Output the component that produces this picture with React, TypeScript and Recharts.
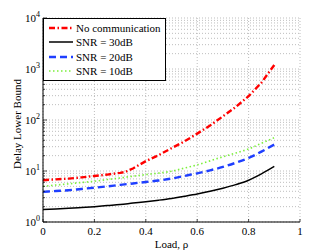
import { LineChart, Line, XAxis, YAxis, CartesianGrid, Legend } from "recharts";

const rho = [0, 0.05, 0.1, 0.15, 0.2, 0.25, 0.3, 0.35, 0.4, 0.45, 0.5, 0.55, 0.6, 0.65, 0.7, 0.75, 0.8, 0.85, 0.9];
const snr30 = [1.76, 1.8, 1.85, 1.92, 2.0, 2.1, 2.2, 2.35, 2.5, 2.68, 2.9, 3.2, 3.55, 4.0, 4.6, 5.4, 6.6, 8.8, 12.3];
const snr20 = [3.9, 4.05, 4.2, 4.45, 4.7, 5.0, 5.35, 5.7, 6.1, 6.5, 7.1, 8.0, 9.0, 10.3, 12, 14.5, 18, 24, 33];
const snr10 = [5.0, 5.3, 5.6, 5.95, 6.3, 6.8, 7.3, 7.9, 8.5, 9.1, 9.9, 11.4, 13.2, 15.8, 19, 22.5, 27, 35, 45];

const rhoNoComm = [0, 0.05, 0.1, 0.15, 0.2, 0.25, 0.3, 0.32, 0.35, 0.4, 0.45, 0.5, 0.55, 0.6, 0.65, 0.7, 0.75, 0.8, 0.85, 0.9];
const noComm = [6.6, 6.85, 7.1, 7.5, 8.0, 8.5, 9.2, 9.6, 11.2, 15.6, 20.5, 28, 38, 54, 78, 118, 180, 293, 540, 1200];

const xTicks = [0, 0.2, 0.4, 0.6, 0.8, 1];
const decades = [1, 10, 100, 1000, 10000];
const yTicks = [
  1, 2, 3, 4, 5, 6, 7, 8, 9,
  10, 20, 30, 40, 50, 60, 70, 80, 90,
  100, 200, 300, 400, 500, 600, 700, 800, 900,
  1000, 2000, 3000, 4000, 5000, 6000, 7000, 8000, 9000,
  10000,
];

const table = rho.map((r, i) => ({ rho: r, snr30: snr30[i], snr20: snr20[i], snr10: snr10[i] }));
const noCommTable = rhoNoComm.map((r, i) => ({ rho: r, noComm: noComm[i] }));

const FONT = "'Liberation Serif', 'DejaVu Serif', serif";

const series = [
  { key: "noComm", name: "No communication", color: "#ff0000", dash: "6 2.5 1.5 2.5", width: 2.4 },
  { key: "snr30", name: "SNR = 30dB", color: "#000000", dash: undefined, width: 1.5 },
  { key: "snr20", name: "SNR = 20dB", color: "#1f3fff", dash: "7 4", width: 2.4 },
  { key: "snr10", name: "SNR = 10dB", color: "#7cf03c", dash: "1.5 2.5", width: 1.6 },
];

const LeftTick = (props: any) => {
  const { x, y, payload } = props;
  const v = payload.value;
  const edge = x + 3;
  const major = decades.includes(v);
  const exp = Math.round(Math.log10(v));
  return (
    <g>
      <line x1={edge} x2={edge + (major ? 4 : 2)} y1={y} y2={y} stroke="#000" strokeWidth={0.7} />
      {major && (
        <text x={edge - 3} y={y + 4} textAnchor="end" fontSize={11} fontFamily={FONT} fill="#000">
          10
          <tspan dy={-5} fontSize={8}>
            {exp}
          </tspan>
        </text>
      )}
    </g>
  );
};

const RightTick = (props: any) => {
  const { x, y, payload } = props;
  const major = decades.includes(payload.value);
  return <line x1={x - (major ? 4 : 2)} x2={x} y1={y} y2={y} stroke="#000" strokeWidth={0.7} />;
};

const BottomTick = (props: any) => {
  const { x, y, payload } = props;
  return (
    <g>
      <line x1={x} x2={x} y1={y} y2={y - 3} stroke="#000" strokeWidth={0.7} />
      <text x={x} y={y + 13} textAnchor="middle" fontSize={11} fontFamily={FONT} fill="#000">
        {payload.value}
      </text>
    </g>
  );
};

const TopTick = (props: any) => {
  const { x, y } = props;
  return <line x1={x} x2={x} y1={y} y2={y + 3} stroke="#000" strokeWidth={0.7} />;
};

const LegendBox = () => (
  <div
    style={{
      width: 123,
      height: 63,
      background: "#fff",
      border: "1px solid #000",
      boxSizing: "border-box",
      fontFamily: FONT,
      fontSize: 11,
      padding: "2px 0 0 4px",
      color: "#000",
    }}
  >
    {series.map((s) => (
      <div key={s.key} style={{ display: "flex", alignItems: "center", height: 14.3 }}>
        <svg width={27} height={8}>
          <line x1={1} x2={25} y1={4} y2={4} stroke={s.color} strokeWidth={s.width} strokeDasharray={s.dash} />
        </svg>
        <span style={{ marginLeft: 1, whiteSpace: "nowrap" }}>{s.name}</span>
      </div>
    ))}
  </div>
);

export default function App() {
  return (
    <div style={{ position: "absolute", left: 0, top: 0, background: "#fff" }}>
      <LineChart width={332} height={250} data={table} margin={{ top: 18, right: 32, left: 8, bottom: 0 }}>
        <CartesianGrid stroke="#a0a0a0" strokeDasharray="1 2" strokeWidth={0.7} />
        <XAxis
          dataKey="rho"
          type="number"
          domain={[0, 1]}
          ticks={xTicks}
          interval={0}
          height={28}
          tickSize={0}
          tickMargin={0}
          tick={<BottomTick />}
          axisLine={{ stroke: "#000" }}
          label={{ value: "Load, ρ", position: "insideBottom", offset: 2, fontSize: 11, fontFamily: FONT, fill: "#000" }}
        />
        <XAxis
          xAxisId="top"
          orientation="top"
          dataKey="rho"
          type="number"
          domain={[0, 1]}
          ticks={xTicks}
          interval={0}
          height={0}
          tickSize={0}
          tickMargin={0}
          tick={<TopTick />}
          axisLine={{ stroke: "#000" }}
        />
        <YAxis
          scale="log"
          type="number"
          domain={[1, 10000]}
          allowDataOverflow
          ticks={yTicks}
          interval={0}
          width={35}
          tickSize={0}
          tickMargin={3}
          tick={<LeftTick />}
          axisLine={{ stroke: "#000" }}
          label={{
            content: (p: any) => {
              const vb = p.viewBox;
              const cx = vb.x + 9;
              const cy = vb.y + vb.height / 2 + 4;
              return (
                <text
                  x={cx}
                  y={cy}
                  transform={`rotate(-90 ${cx} ${cy})`}
                  textAnchor="middle"
                  dominantBaseline="central"
                  fontSize={11}
                  fontFamily={FONT}
                  fill="#000"
                >
                  Delay Lower Bound
                </text>
              );
            },
          }}
        />
        <YAxis
          yAxisId="right"
          orientation="right"
          scale="log"
          type="number"
          domain={[1, 10000]}
          allowDataOverflow
          ticks={yTicks}
          interval={0}
          width={0}
          tickSize={0}
          tickMargin={0}
          tick={<RightTick />}
          axisLine={{ stroke: "#000" }}
        />
        <Legend
          verticalAlign="middle"
          align="center"
          layout="vertical"
          wrapperStyle={{ top: 18, left: 43, width: 123, height: 63 }}
          content={() => <LegendBox />}
        />
        <Line
          data={noCommTable}
          dataKey="noComm"
          name="No communication"
          stroke={series[0].color}
          strokeWidth={series[0].width}
          strokeDasharray={series[0].dash}
          dot={false}
          type="linear"
          isAnimationActive={false}
        />
        <Line
          dataKey="snr30"
          name="SNR = 30dB"
          stroke={series[1].color}
          strokeWidth={series[1].width}
          dot={false}
          type="monotone"
          isAnimationActive={false}
        />
        <Line
          dataKey="snr20"
          name="SNR = 20dB"
          stroke={series[2].color}
          strokeWidth={series[2].width}
          strokeDasharray={series[2].dash}
          dot={false}
          type="monotone"
          isAnimationActive={false}
        />
        <Line
          dataKey="snr10"
          name="SNR = 10dB"
          stroke={series[3].color}
          strokeWidth={series[3].width}
          strokeDasharray={series[3].dash}
          dot={false}
          type="monotone"
          isAnimationActive={false}
        />
      </LineChart>
    </div>
  );
}
